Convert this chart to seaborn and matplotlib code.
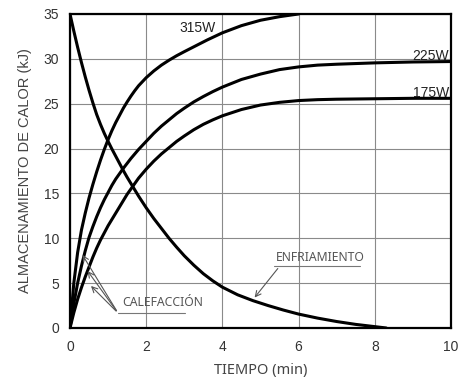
import matplotlib
matplotlib.use("Agg")
import matplotlib.pyplot as plt
import seaborn as sns
import pandas as pd

# curvas (tiempo en min, calor en kJ)
t_315 = [0, 0.1, 0.2, 0.3, 0.4, 0.5, 0.6, 0.7, 0.8, 0.9, 1.0, 1.1, 1.2, 1.3, 1.4, 1.5, 1.6, 1.7, 1.8,
         2.0, 2.2, 2.4, 2.6, 2.8, 3.0, 3.3, 3.6, 4.0, 4.5, 5.0, 5.5, 6.0]
q_315 = [0, 5.0, 8.4, 10.9, 12.8, 14.5, 16.0, 17.4, 18.7, 19.9, 21.0, 22.0, 22.9, 23.7, 24.5, 25.2, 25.85, 26.45, 27.0,
         27.9, 28.65, 29.3, 29.85, 30.35, 30.8, 31.45, 32.1, 32.9, 33.7, 34.3, 34.7, 35.0]

t_225 = [0, 0.1, 0.2, 0.3, 0.4, 0.5, 0.6, 0.7, 0.8, 0.9, 1.0, 1.1, 1.2, 1.3, 1.4, 1.6, 1.8, 2.0, 2.2, 2.4,
         2.6, 2.8, 3.0, 3.25, 3.5, 3.75, 4.0, 4.5, 5.0, 5.5, 6.0, 6.5, 7.0, 8.0, 9.0, 10.0]
q_225 = [0, 2.7, 5.0, 6.9, 8.6, 10.1, 11.3, 12.4, 13.4, 14.3, 15.1, 15.9, 16.6, 17.2, 17.8, 18.9, 19.9, 20.8, 21.7, 22.5,
         23.2, 23.9, 24.5, 25.2, 25.8, 26.35, 26.85, 27.7, 28.3, 28.8, 29.1, 29.3, 29.4, 29.55, 29.65, 29.7]

t_175 = [0, 0.1, 0.2, 0.3, 0.4, 0.5, 0.6, 0.7, 0.8, 0.9, 1.0, 1.1, 1.2, 1.3, 1.4, 1.5, 1.6, 1.8, 2.0, 2.2,
         2.4, 2.6, 2.8, 3.0, 3.25, 3.5, 3.75, 4.0, 4.5, 5.0, 5.5, 6.0, 6.5, 7.0, 8.0, 9.0, 10.0]
q_175 = [0, 1.7, 3.2, 4.5, 5.7, 6.8, 7.9, 8.9, 9.8, 10.6, 11.4, 12.1, 12.8, 13.5, 14.2, 14.9, 15.5, 16.7, 17.7, 18.6,
         19.4, 20.1, 20.8, 21.4, 22.1, 22.7, 23.2, 23.65, 24.35, 24.85, 25.15, 25.35, 25.45, 25.5, 25.55, 25.6, 25.6]

t_enf = [0, 0.1, 0.2, 0.3, 0.4, 0.5, 0.6, 0.7, 0.8, 0.9, 1.0, 1.1, 1.2, 1.3, 1.4, 1.5, 1.6, 1.8, 2.0, 2.2,
         2.4, 2.6, 2.8, 3.0, 3.25, 3.5, 3.75, 4.0, 4.4, 4.8, 5.2, 5.6, 6.0, 6.5, 7.0, 7.5, 8.0, 8.3]
q_enf = [35, 33.1, 31.3, 29.6, 28.0, 26.5, 25.1, 23.8, 22.7, 21.7, 20.8, 19.95, 19.15, 18.35, 17.55, 16.8, 16.1, 14.7, 13.4, 12.2,
         11.1, 10.0, 9.0, 8.05, 7.0, 6.05, 5.25, 4.55, 3.7, 3.05, 2.5, 2.0, 1.55, 1.1, 0.72, 0.4, 0.15, 0.0]

x_ticks = [0, 2, 4, 6, 8, 10]
y_ticks = [0, 5, 10, 15, 20, 25, 30, 35]

sns.set_style("white")
plt.rcParams['font.family'] = ['Liberation Sans', 'DejaVu Sans']

fig = plt.figure(figsize=(4.59, 3.82), dpi=100)
ax = fig.add_axes([0.1525, 0.1414, 0.83, 0.822])

series = [(t_315, q_315), (t_225, q_225), (t_175, q_175), (t_enf, q_enf)]
for t, q in series:
    df = pd.DataFrame({'t': t, 'q': q})
    sns.lineplot(data=df, x='t', y='q', color='black', linewidth=2.2,
                 sort=False, estimator=None, ax=ax, solid_joinstyle='round')

ax.set_xlim(0, 10)
ax.set_ylim(0, 35)
ax.set_xticks(x_ticks)
ax.set_yticks(y_ticks)
ax.grid(True, color='#8a8a8a', linewidth=0.8)
ax.set_axisbelow(True)
for s in ax.spines.values():
    s.set_color('black')
    s.set_linewidth(1.6)
ax.tick_params(axis='both', length=0, labelsize=10, colors='#333333')
ax.tick_params(axis='x', pad=9)
ax.tick_params(axis='y', pad=8)

ax.set_xlabel('TIEMPO (min)', fontsize=10.5, color='#444444',
              family=['Noto Sans', 'DejaVu Sans'], labelpad=6)
ax.set_ylabel('ALMACENAMIENTO DE CALOR (kJ)', fontsize=10.5, color='#444444', labelpad=8)

# etiquetas de potencia
ax.text(3.83, 33.4, '315W', ha='right', va='center', fontsize=10, color='#222222')
ax.text(9.95, 29.85, '225W', ha='right', va='baseline', fontsize=10, color='#222222')
ax.text(9.95, 25.75, '175W', ha='right', va='baseline', fontsize=10, color='#222222')

# anotaciones
ann_font = ['Noto Sans', 'DejaVu Sans']
ax.text(6.56, 7.9, 'ENFRIAMIENTO', ha='center', va='center', fontsize=8.8,
        color='#555555', family=ann_font)
ax.plot([5.35, 7.6], [6.87, 6.87], color='#777777', linewidth=0.8)
ax.annotate('', xy=(4.8, 3.15), xytext=(5.5, 6.87),
            arrowprops=dict(arrowstyle='->', color='#555555', lw=0.8))

ax.text(2.42, 2.84, 'CALEFACCIÓN', ha='center', va='center', fontsize=8.8,
        color='#555555', family=ann_font)
ax.plot([1.26, 3.02], [1.67, 1.67], color='#777777', linewidth=0.8)
for tip in [(0.29, 8.4), (0.42, 6.6), (0.5, 4.9)]:
    ax.annotate('', xy=tip, xytext=(1.26, 1.67),
                arrowprops=dict(arrowstyle='->', color='#555555', lw=0.8))

fig.savefig('out.png', dpi=100)
